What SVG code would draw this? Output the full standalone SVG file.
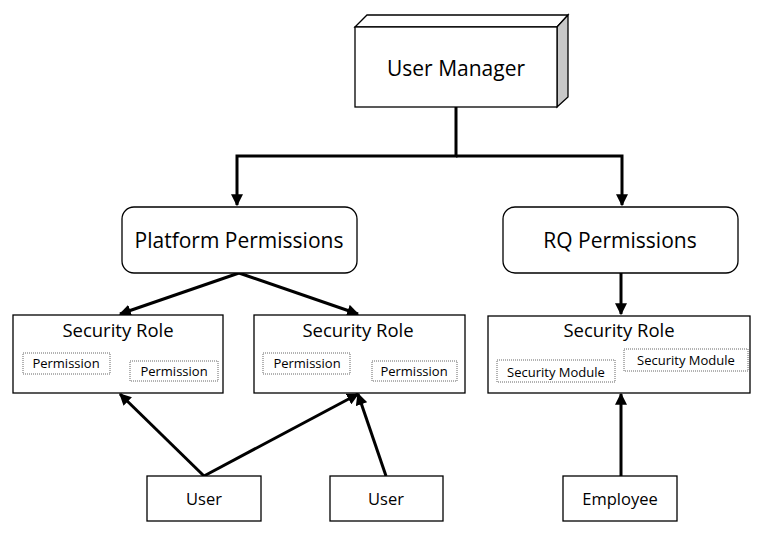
<svg xmlns="http://www.w3.org/2000/svg" width="784" height="548" viewBox="0 0 784 548">
<style>
.box{fill:#fff;stroke:#000;stroke-width:1.3}
.dot{fill:#fff;stroke:#666;stroke-width:1;stroke-dasharray:1 1}
.t{font-family:"Open Sans","Noto Sans",sans-serif;fill:#000;text-anchor:middle;dominant-baseline:central}
.big{font-size:21px}
.mid{font-size:18.5px}
.sm{font-size:13px}
.usr{font-size:16.5px}
.c{fill:none;stroke:#000;stroke-width:3}
</style>
<defs>
<marker id="ah" viewBox="0 0 10 10" refX="9" refY="5" markerWidth="4" markerHeight="4" orient="auto" markerUnits="strokeWidth">
<path d="M0,0 L10,5 L0,10 z" fill="#000"/>
</marker>
</defs>
<rect width="784" height="548" fill="#fff"/>
<g id="connectors">
<path class="c" d="M456,107 V156 H237 V205" marker-end="url(#ah)"/>
<path class="c" d="M456,156 H622 V205" marker-end="url(#ah)"/>
<path class="c" d="M239,273 L120,314" marker-end="url(#ah)"/>
<path class="c" d="M239,273 L358,314" marker-end="url(#ah)"/>
<path class="c" d="M621,273 V314" marker-end="url(#ah)"/>
<path class="c" d="M204,476 L120,394" marker-end="url(#ah)"/>
<path class="c" d="M204,476 L358,394" marker-end="url(#ah)"/>
<path class="c" d="M386,476 L358,394" marker-end="url(#ah)"/>
<path class="c" d="M621,476 V394" marker-end="url(#ah)"/>
</g>
<g id="user-manager">
<path d="M355,27 L367,15 L568,15 L557,27 Z" class="box"/>
<path d="M557,27 L568,15 L568,97 L557,107 Z" fill="#c8c8c8" stroke="#000" stroke-width="1.3"/>
<rect x="355" y="27" width="202" height="80" class="box"/>
<text class="t big" x="456" y="68">User Manager</text>
</g>
<g id="platform-permissions">
<rect x="122" y="207" width="235" height="66" rx="12" class="box"/>
<text class="t big" x="239" y="240">Platform Permissions</text>
</g>
<g id="rq-permissions">
<rect x="503" y="207" width="235" height="66" rx="12" class="box"/>
<text class="t big" x="620" y="240">RQ Permissions</text>
</g>
<g id="security-role-1">
<rect x="13" y="315" width="210" height="78" class="box"/>
<text class="t mid" x="118" y="329">Security Role</text>
<rect x="23" y="353" width="87" height="21" class="dot"/>
<text class="t sm" x="66" y="363">Permission</text>
<rect x="130" y="361" width="88" height="20" class="dot"/>
<text class="t sm" x="174" y="371">Permission</text>
</g>
<g id="security-role-2">
<rect x="254" y="315" width="211" height="78" class="box"/>
<text class="t mid" x="358" y="329">Security Role</text>
<rect x="263" y="353" width="87" height="21" class="dot"/>
<text class="t sm" x="307" y="363">Permission</text>
<rect x="372" y="361" width="85" height="20" class="dot"/>
<text class="t sm" x="414" y="371">Permission</text>
</g>
<g id="security-role-3">
<rect x="488" y="316" width="262" height="77" class="box"/>
<text class="t mid" x="619" y="329">Security Role</text>
<rect x="497" y="360" width="118" height="22" class="dot"/>
<text class="t sm" x="556" y="372">Security Module</text>
<rect x="624" y="349" width="124" height="22" class="dot"/>
<text class="t sm" x="686" y="360">Security Module</text>
</g>
<g id="user-1">
<rect x="147" y="476" width="114" height="45" class="box"/>
<text class="t usr" x="204" y="498">User</text>
</g>
<g id="user-2">
<rect x="330" y="476" width="113" height="45" class="box"/>
<text class="t usr" x="386" y="498">User</text>
</g>
<g id="employee">
<rect x="563" y="476" width="114" height="45" class="box"/>
<text class="t usr" x="620" y="498">Employee</text>
</g>
</svg>
